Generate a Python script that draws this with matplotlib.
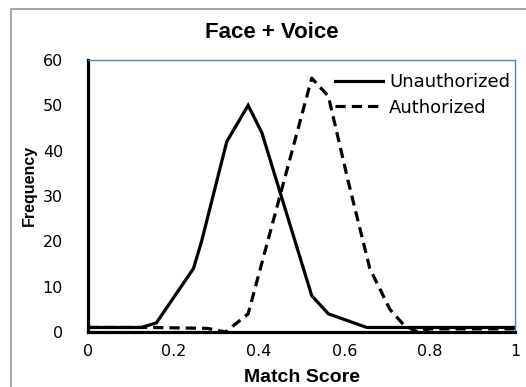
import matplotlib
matplotlib.use("Agg")
import matplotlib.pyplot as plt
from matplotlib.patches import Rectangle

# Match score distributions
score_unauth = [0.0, 0.125, 0.16, 0.247, 0.266, 0.325, 0.375, 0.407,
                0.524, 0.563, 0.653, 1.0]
freq_unauth = [1, 1, 2, 14, 20, 42, 50, 44, 8, 4, 1, 1]

score_auth = [0.0, 0.15, 0.28, 0.322, 0.375, 0.524, 0.563, 0.61,
              0.66, 0.707, 0.74, 0.772, 0.8, 1.0]
freq_auth = [1, 1, 0.8, 0, 4, 56, 52, 33, 14, 5, 1.5, 0, 0.7, 0.7]

x_ticks = [0, 0.2, 0.4, 0.6, 0.8, 1]
x_tick_labels = ["0", "0.2", "0.4", "0.6", "0.8", "1"]
y_ticks = [0, 10, 20, 30, 40, 50, 60]

fig = plt.figure(figsize=(5.26, 3.87), dpi=100)
ax = fig.add_axes([88 / 526, 55 / 387, 427 / 526, 272 / 387])

# Outer chart border (grey, cut at the right and bottom)
fig.patches.append(Rectangle((11 / 526, -0.1), 1.2, 0.1 + 378 / 387,
                             transform=fig.transFigure, fill=False,
                             edgecolor="#a6a6a6", linewidth=1.4))

ax.plot(score_unauth, freq_unauth, color="black", linewidth=2.3,
        label="Unauthorized", solid_joinstyle="miter")
ax.plot(score_auth, freq_auth, color="black", linewidth=2.3,
        linestyle=(0, (3.2, 1.9)), label="Authorized")

ax.set_xlim(0, 1)
ax.set_ylim(0, 60)
ax.set_xticks(x_ticks)
ax.set_xticklabels(x_tick_labels)
ax.set_yticks(y_ticks)
ax.tick_params(length=0, labelsize=11.5)
ax.tick_params(axis="y", pad=18)
ax.tick_params(axis="x", pad=9)

for lado in ["left", "bottom"]:
    ax.spines[lado].set_linewidth(2.3)
    ax.spines[lado].set_color("black")
for lado in ["top", "right"]:
    ax.spines[lado].set_linewidth(1.0)
    ax.spines[lado].set_color("#4f81bd")

# Title is centred on the whole chart area, not on the axes
fig.text(272 / 526, 1 - 33 / 387, "Face + Voice", fontsize=16,
         fontweight="bold", family="Liberation Sans",
         ha="center", va="center")
ax.set_xlabel("Match Score", fontsize=14, fontweight="bold",
              family="Liberation Sans", labelpad=7)
ax.set_ylabel("Frequency", fontsize=11.5, fontweight="bold",
              family=["Liberation Sans Narrow", "Liberation Sans"])
ax.yaxis.set_label_coords(-0.12, 0.54)

ax.legend(loc="upper right", frameon=False, fontsize=13,
          handlelength=2.7, handletextpad=0.3, labelspacing=0.42,
          borderaxespad=0.0, bbox_to_anchor=(1.005, 0.978))

fig.savefig("out.png", dpi=100)
